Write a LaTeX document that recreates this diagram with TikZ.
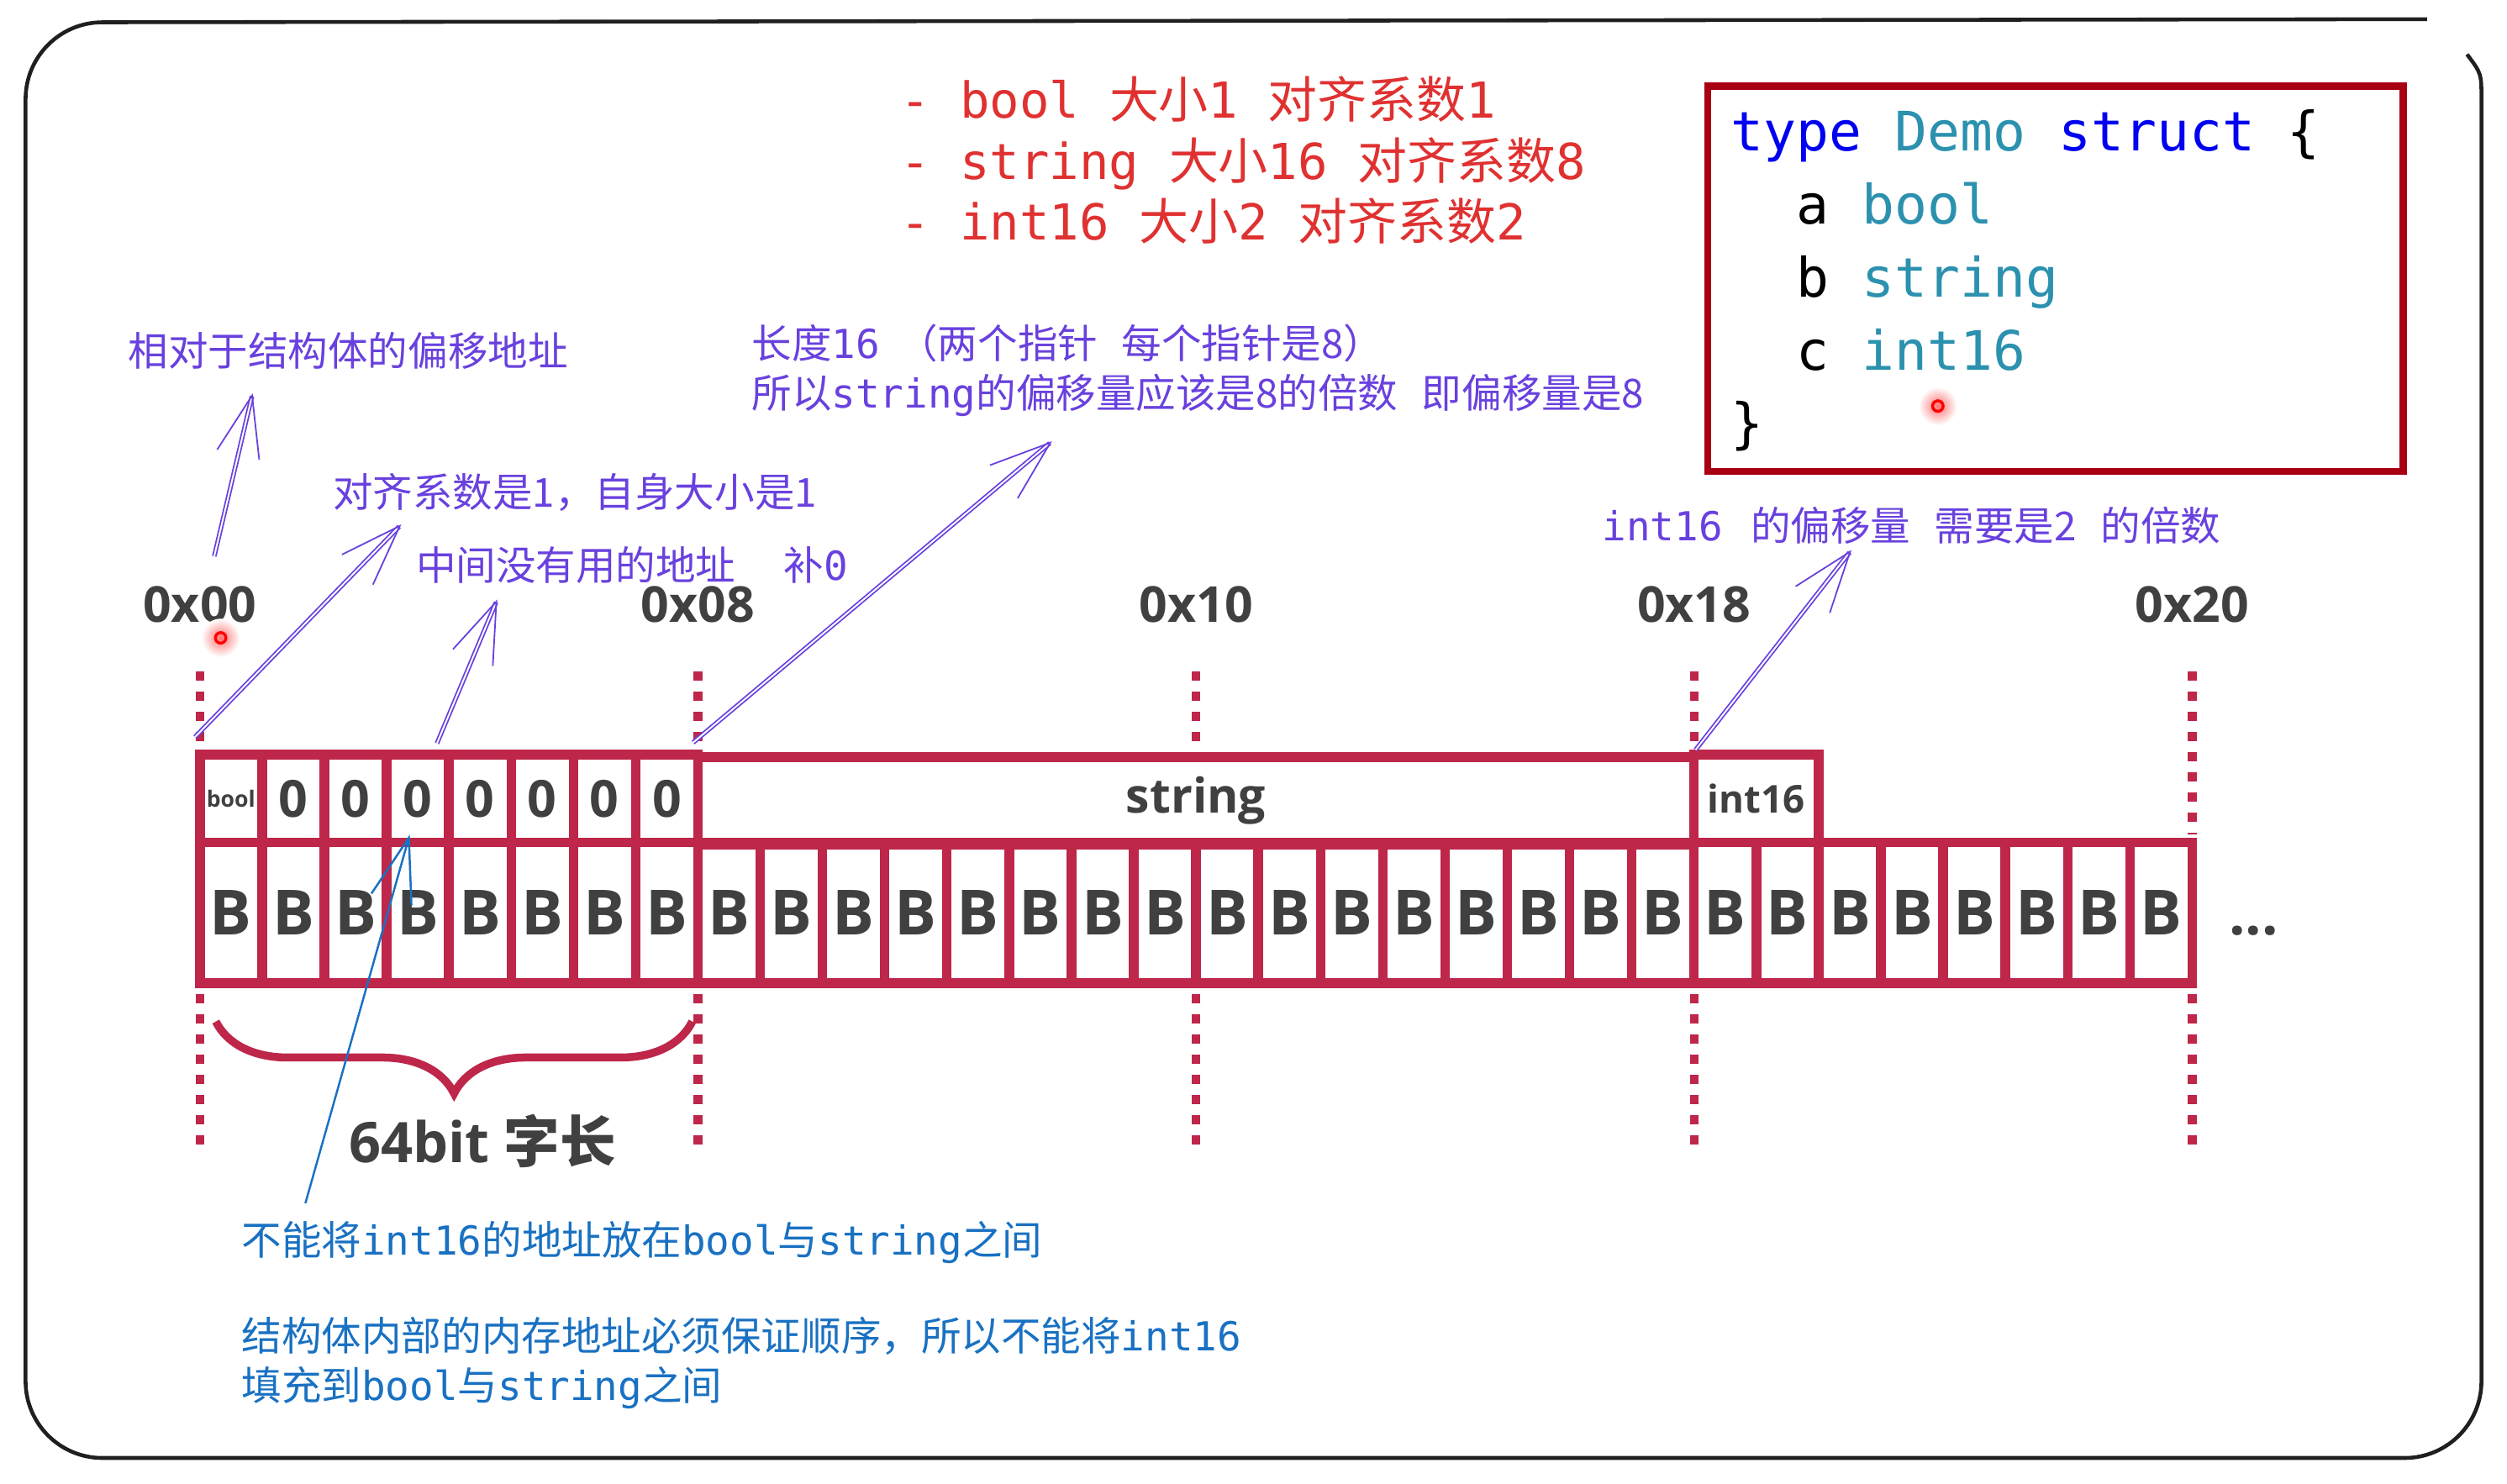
\documentclass[tikz,border=0pt]{standalone}
\usepackage{fontspec}
\setmainfont{Open Sans}
\newfontfamily\cjk{Noto Sans CJK SC}
\newfontfamily\mono{DejaVu Sans Mono}
\usepackage{tikz}
\usetikzlibrary{arrows.meta,decorations.pathreplacing,positioning}

\definecolor{crimson}{RGB}{190,38,74}
\definecolor{graytxt}{RGB}{64,64,64}
\definecolor{notepurple}{RGB}{105,65,222}
\definecolor{noteblue}{RGB}{25,113,194}
\definecolor{listred}{RGB}{224,49,49}
\definecolor{boxred}{RGB}{168,0,18}
\definecolor{kwblue}{RGB}{0,0,240}
\definecolor{typeteal}{RGB}{43,145,175}

\newcommand\zh[1]{{\cjk #1}}
\newcommand\en[1]{{\mono #1}}

\begin{document}
\begin{tikzpicture}[
    x=1pt, y=-1pt,
    cell/.style={draw=crimson, line width=6pt, inner sep=0pt, text=graytxt},
    topcell/.style={cell, minimum height=55pt, font=\fontsize{32}{32}\selectfont\bfseries},
    bytecell/.style={cell, minimum width=38.94pt, minimum height=88pt, font=\fontsize{39}{39}\selectfont\bfseries},
    addr/.style={text=graytxt, inner sep=0pt, anchor=base, font=\fontsize{31}{31}\selectfont\bfseries},
    tick/.style={draw=crimson, line width=5.5pt, dash pattern=on 5.7pt off 6.9pt},
    note/.style={text=notepurple, inner sep=0pt, anchor=base west, align=left, font=\fontsize{25}{31}\selectfont},
    bluenote/.style={note, text=noteblue},
    pen/.style={draw=notepurple, line width=0.95pt, double=white, double distance=1pt, -{Straight Barb[length=38pt,width=27pt]}},
    bluepen/.style={draw=noteblue, line width=1.3pt, -{Straight Barb[length=40pt,width=26pt]}}
]
\useasboundingbox (0,0) rectangle (1568,928);

% outer frame
\draw[line width=2.4pt, draw=black!88, rounded corners=48pt]
    (1518,12) -- (16,14) -- (16,912) -- (1552,912) -- (1552,62);
\draw[line width=2.4pt, draw=black!88] (1552,62) .. controls (1552,46) .. (1543,34);

% type list (base = last line)
\node[note, text=listred, font=\fontsize{31}{38}\selectfont] (sizes) at (563,150)
    {\en{- bool }\zh{大小}\en{1 }\zh{对齐系数}\en{1}\\
     \en{- string }\zh{大小}\en{16 }\zh{对齐系数}\en{8}\\
     \en{- int16 }\zh{大小}\en{2 }\zh{对齐系数}\en{2}};

% struct source
\node[draw=boxred, line width=4.5pt, minimum width=435pt, minimum height=241pt] (box) at (1285.5,174.5) {};
\node[inner sep=0pt, anchor=base west, align=left, font=\mono\fontsize{34}{45.6}\selectfont] (src) at (1082.6,277)
    {{\color{kwblue}type} {\color{typeteal}Demo} {\color{kwblue}struct} \{\\
     \hspace*{1.204em}a {\color{typeteal}bool}\\
     \hspace*{1.204em}b {\color{typeteal}string}\\
     \hspace*{1.204em}c {\color{typeteal}int16}\\
     \}};

% memory bytes
\foreach \i in {0,...,31}
    \node[bytecell] (b\i) at ({125+(\i+0.5)*38.94},571) {B};
\node[topcell, minimum width=38.94pt, font=\fontsize{14}{14}\selectfont\bfseries] (bo) at ({125+0.5*38.94},499.5) {bool};
\foreach \i in {1,...,7}
    \node[topcell, minimum width=38.94pt] (z\i) at ({125+(\i+0.5)*38.94},499.5) {0};
\node[topcell, minimum width=623.04pt, font=\fontsize{30}{30}\selectfont\bfseries] (str) at (748.04,501) {string};
\node[topcell, minimum width=77.88pt, font=\fontsize{24}{24}\selectfont\bfseries] (i16) at (1098.48,499.5) {int16};
\node[text=graytxt, inner sep=0pt, anchor=base west, font=\fontsize{36}{36}\selectfont\bfseries] (more) at (1394,585) {...};

% addresses
\foreach \k/\t in {0/0x00,8/0x08,16/0x10,24/0x18,32/0x20} {
    \node[addr] (a\k) at ({125+\k*38.94},389) {\t};
    \draw[tick] ({125+\k*38.94},622) -- ({125+\k*38.94},716);
}
\foreach \k in {0,8,16,24}
    \draw[tick] ({125+\k*38.94},420) -- ({125+\k*38.94},466);
\draw[tick] ({125+32*38.94},420) -- ({125+32*38.94},522);

% word size
\draw[crimson, line width=5pt, decorate, decoration={brace, amplitude=45pt}] (433,639) -- (135,639);
\node[text=graytxt, inner sep=0pt, anchor=base west, font=\fontsize{35}{35}\selectfont\bfseries] (word) at (218,727) {64bit \zh{字长}};

% cursor marks
\shade[inner color=red!55, outer color=white] (138,399) circle[radius=12pt];
\draw[red, line width=1.8pt] (138,399) circle[radius=3.3pt];
\shade[inner color=red!55, outer color=white] (1212,254) circle[radius=12pt];
\draw[red, line width=1.8pt] (1212,254) circle[radius=3.3pt];

% notes
\node[note] (n1) at (80,229) {\zh{相对于结构体的偏移地址}};
\node[note] (n2) at (208,317) {\zh{对齐系数是1，自身大小是1}};
\node[note] (n3) at (260,363) {\zh{中间没有用的地址}\hspace{1.2em}\zh{补}\en{0}};
\node[note] (n4) at (470,255)
    {\zh{长度}\en{16}\hspace{0.45em}\zh{（两个指针}\hspace{0.6em}\zh{每个指针是8）}\\
     \zh{所以}\en{string}\zh{的偏移量应该是8的倍数}\hspace{0.6em}\zh{即偏移量是8}};
\node[note] (n5) at (1002,338) {\en{int16}\hspace{0.7em}\zh{的偏移量}\hspace{0.6em}\zh{需要是2}\hspace{0.6em}\zh{的倍数}};
\node[bluenote] (n6) at (151,785) {\zh{不能将}\en{int16}\zh{的地址放在}\en{bool}\zh{与}\en{string}\zh{之间}};
\node[bluenote] (n7) at (151,876)
    {\zh{结构体内部的内存地址必须保证顺序，所以不能将}\en{int16}\\
     \zh{填充到}\en{bool}\zh{与}\en{string}\zh{之间}};

\coordinate (s1) at (134,348);
\coordinate (t1) at (158,246);
\coordinate (t2) at (251,328);
\coordinate (t3) at (311,375);
\coordinate (t4) at (658,276);
\coordinate (t5) at (1158,344);

\draw[pen] (s1) -- (t1);
\draw[pen] ([yshift=8pt]bo.north west) -- (t2);
\draw[pen] ([xshift=12pt,yshift=4pt]z3.north) -- (t3);
\draw[pen] ([yshift=6pt]str.north west) -- (t4);
\draw[pen] ([xshift=4pt]i16.north west) -- (t5);
\draw[bluepen] ([xshift=40pt,yshift=11pt]n6.north west) -- ([xshift=-5pt,yshift=8pt]z3.south);
\end{tikzpicture}
\end{document}
